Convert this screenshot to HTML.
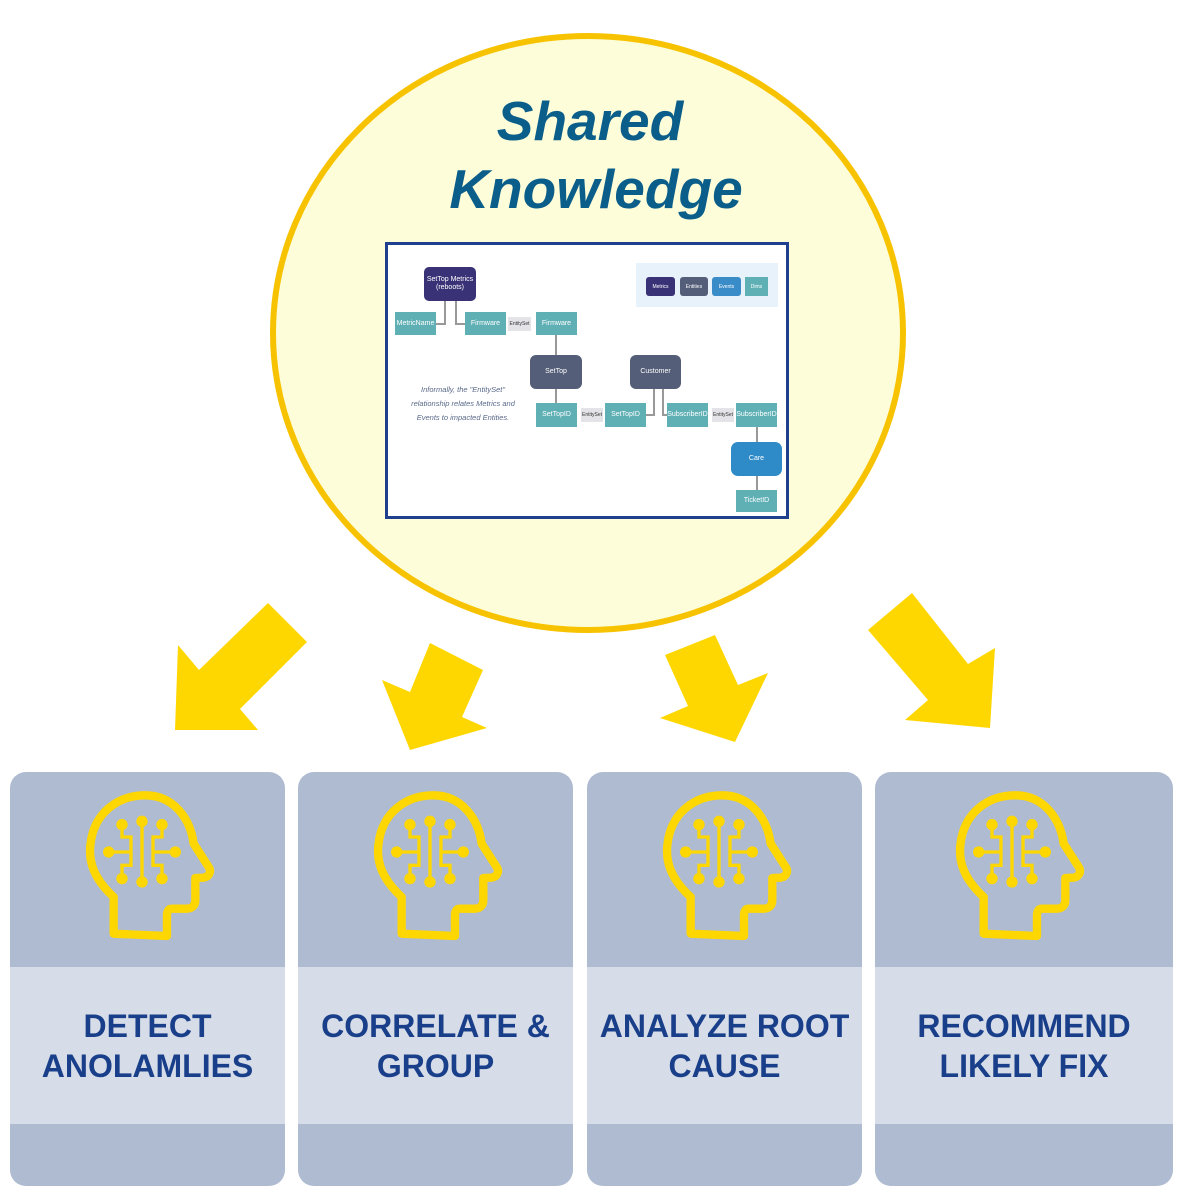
<!DOCTYPE html>
<html><head><meta charset="utf-8"><style>
body{margin:0;width:1190px;height:1201px;background:#fff;position:relative;overflow:hidden;font-family:"Liberation Sans",sans-serif}
.card{position:absolute;top:772px;height:414px;border-radius:16px;overflow:hidden;background:#aebbd0}
.card .mid{position:absolute;left:0;right:0;top:195px;height:157px;background:#d6dde8;display:flex;align-items:center;justify-content:center;text-align:center;color:#1a3f8a;font-weight:bold;font-size:32px;line-height:40px}
.card svg{position:absolute;top:0;left:0}
.n{position:absolute;color:#fff;font-size:7px;display:flex;align-items:center;justify-content:center;text-align:center;line-height:8px}
.t{background:#5fb0b5}.es{background:#e4e4e8;color:#333;font-size:5px}
</style></head><body>
<svg width="1190" height="1201" style="position:absolute;left:0;top:0">
<ellipse cx="588" cy="333" rx="315" ry="297" fill="#fdfdd9" stroke="#f7c300" stroke-width="6"/>
<g fill="#ffd700">
<polygon points="268,603 307,642 240,709 258,730 175,730 178,645 199,670"/>
<polygon points="430,643 483,670 462,717 487,728 410,750 382,680 410,692"/>
<polygon points="665,655 715,635 738,685 768,673 735,742 660,718 688,706"/>
<polygon points="868,630 912,593 968,664 995,648 990,728 905,720 928,700"/>
</g>
<text x="590" y="140" text-anchor="middle" font-family="Liberation Sans" font-weight="bold" font-style="italic" font-size="55" fill="#0b5e8a">Shared</text>
<text x="596" y="208" text-anchor="middle" font-family="Liberation Sans" font-weight="bold" font-style="italic" font-size="55" fill="#0b5e8a">Knowledge</text>
</svg>

<div style="position:absolute;left:385px;top:242px;width:398px;height:271px;border:3px solid #1f3f8f;background:#fff">
<svg width="398" height="271" style="position:absolute;left:0;top:0" stroke="#999" stroke-width="2" fill="none">
<path d="M57,56 V79 H48 M68,56 V79 H77 M168,90 V110 M168,144 V158 M266,144 V170 H258 M275,144 V170 H279 M369,182 V197 M369,231 V245"/>
</svg>
<div style="position:absolute;left:248px;top:18px;width:142px;height:44px;background:#e8f2fa"></div>
<div class="n" style="left:258px;top:32px;width:29px;height:19px;background:#3a3277;border-radius:3px;font-size:5px">Metrics</div>
<div class="n" style="left:292px;top:32px;width:28px;height:19px;background:#545e78;border-radius:3px;font-size:5px">Entities</div>
<div class="n" style="left:324px;top:32px;width:29px;height:19px;background:#3a8cc8;border-radius:3px;font-size:5px">Events</div>
<div class="n t" style="left:357px;top:32px;width:23px;height:19px;font-size:5px">Dims</div>
<div class="n" style="left:36px;top:22px;width:52px;height:34px;background:#3a3277;border-radius:5px">SetTop Metrics<br>(reboots)</div>
<div class="n t" style="left:7px;top:67px;width:41px;height:23px">MetricName</div>
<div class="n t" style="left:77px;top:67px;width:41px;height:23px">Firmware</div>
<div class="n es" style="left:120px;top:72px;width:23px;height:14px">EntitySet</div>
<div class="n t" style="left:148px;top:67px;width:41px;height:23px">Firmware</div>
<div class="n" style="left:142px;top:110px;width:52px;height:34px;background:#545e78;border-radius:6px">SetTop</div>
<div class="n" style="left:242px;top:110px;width:51px;height:34px;background:#545e78;border-radius:6px">Customer</div>
<div class="n t" style="left:148px;top:158px;width:41px;height:24px">SetTopID</div>
<div class="n es" style="left:193px;top:163px;width:22px;height:14px">EntitySet</div>
<div class="n t" style="left:217px;top:158px;width:41px;height:24px">SetTopID</div>
<div class="n t" style="left:279px;top:158px;width:41px;height:24px">SubscriberID</div>
<div class="n es" style="left:324px;top:163px;width:22px;height:14px">EntitySet</div>
<div class="n t" style="left:348px;top:158px;width:41px;height:24px">SubscriberID</div>
<div class="n" style="left:343px;top:197px;width:51px;height:34px;background:#2f8bc8;border-radius:7px">Care</div>
<div class="n t" style="left:348px;top:245px;width:41px;height:22px">TicketID</div>
<div style="position:absolute;left:15px;top:138px;width:120px;text-align:center;font-style:italic;font-size:7.5px;line-height:14px;color:#5a6a8a">Informally, the "EntitySet" relationship relates Metrics and Events to impacted Entities.</div>
</div>

<div class="card" style="left:10px;width:275px"><svg width="275" height="200"><g transform="translate(52,10) scale(0.3333)"><use href="#head"/></g></svg><div class="mid">DETECT<br>ANOLAMLIES</div></div>
<div class="card" style="left:298px;width:275px"><svg width="275" height="200"><g transform="translate(52,10) scale(0.3333)"><use href="#head"/></g></svg><div class="mid">CORRELATE &amp;<br>GROUP</div></div>
<div class="card" style="left:587px;width:275px"><svg width="275" height="200"><g transform="translate(52,10) scale(0.3333)"><use href="#head"/></g></svg><div class="mid">ANALYZE ROOT<br>CAUSE</div></div>
<div class="card" style="left:875px;width:298px"><svg width="298" height="200"><g transform="translate(57,10) scale(0.3333)"><use href="#head"/></g></svg><div class="mid">RECOMMEND<br>LIKELY FIX</div></div>

<svg width="0" height="0" style="position:absolute"><defs>
<g id="head">
<path d="M155,455 V345 C95,290 80,240 85,190 C95,90 170,40 250,40 C335,40 385,110 395,185 L440,255 C450,270 440,285 425,287 L400,288 V355 C400,370 390,380 375,380 L330,380 C318,380 315,390 315,400 V462 Z" fill="none" stroke="#ffd700" stroke-width="25" stroke-linejoin="round"/>
<g stroke="#ffd700" stroke-width="10" fill="none">
<path d="M240,118 V300 M180,128 V165 H207 V250 H180 V290 M140,210 H207 M300,128 V165 H273 V250 H300 V290 M340,210 H273"/>
</g>
<g fill="#ffd700">
<circle cx="240" cy="118" r="17"/><circle cx="240" cy="300" r="17"/>
<circle cx="180" cy="128" r="17"/><circle cx="180" cy="290" r="17"/><circle cx="140" cy="210" r="17"/>
<circle cx="300" cy="128" r="17"/><circle cx="300" cy="290" r="17"/><circle cx="340" cy="210" r="17"/>
</g>
</g>
</defs></svg>
</body></html>
